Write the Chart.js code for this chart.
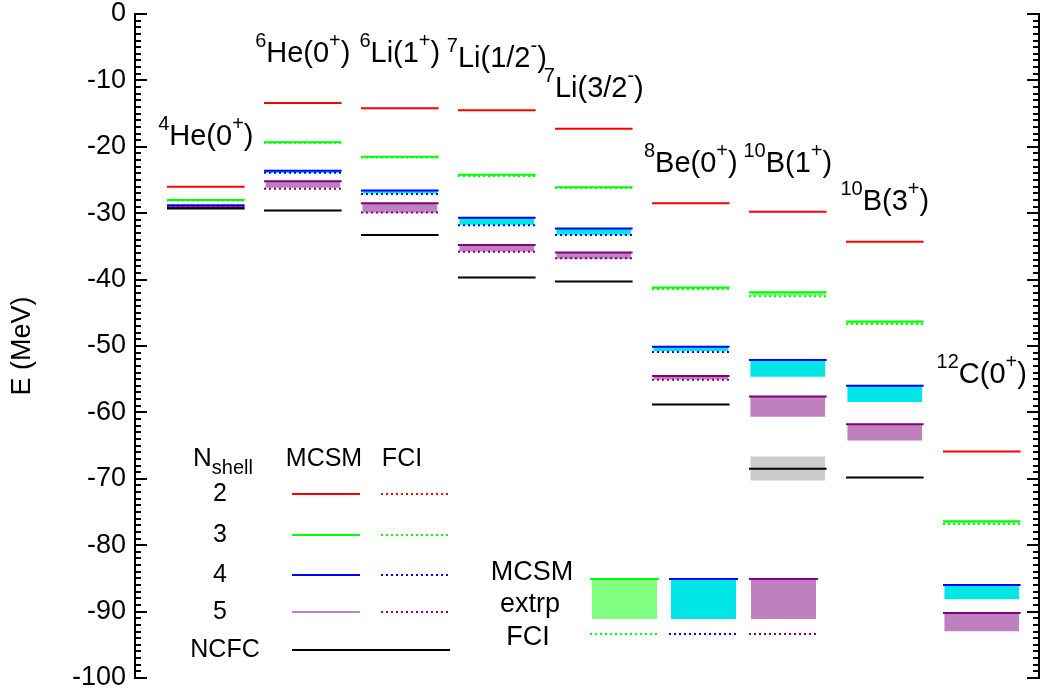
<!DOCTYPE html>
<html>
<head>
<meta charset="utf-8">
<title>Ground-state energies</title>
<script src="https://cdn.jsdelivr.net/npm/chart.js@4.4.1/dist/chart.umd.min.js"></script>
<style>
    html, body { margin: 0; padding: 0; background: #fff; }
</style>
</head>
<body>
<canvas id="levelChart" width="1047" height="691"></canvas>
<script>
// nuclei (mass number, element, J, parity)
const massNumber = [4, 6, 6, 7, 7, 8, 10, 10, 12];
const element = ['He', 'He', 'Li', 'Li', 'Li', 'Be', 'B', 'B', 'C'];
const spin = ['0', '0', '1', '1/2', '3/2', '0', '1', '3', '0'];
const parity = ['+', '+', '+', '-', '-', '+', '+', '+', '+'];

// energies in MeV, one entry per nucleus (FCI Nshell=2 coincides with MCSM)
const mcsm2 = [-26.0, -13.4, -14.2, -14.5, -17.3, -28.5, -29.8, -34.3, -65.9];
const mcsm3 = [-28.0, -19.3, -21.5, -24.2, -26.1, -41.2, -41.9, -46.3, -76.4];
const fci3 = [-28.1, -19.4, -21.6, -24.4, -26.2, -41.4, -42.5, -46.7, -76.8];
const mcsm4 = [-28.8, -23.6, -26.6, -30.7, -32.3, -50.1, -52.1, -56.0, -86.0];
const fci4 = [-28.9, -23.9, -27.1, -31.8, -33.3, -50.9, null, null, null];
const mcsm5 = [-29.1, -25.2, -28.5, -34.8, -35.9, -54.5, -57.6, -61.8, -90.2];
const fci5 = [-29.2, -26.3, -29.9, -35.8, -36.8, -55.1, null, null, null];
const extrp3 = [null, null, null, null, null, -41.3, -42.4, -46.6, -76.7];
const extrp4 = [null, -23.9, -27.0, -31.7, -33.2, -50.7, -54.6, -58.4, -88.1];
const extrp5 = [null, -26.1, -29.9, -35.7, -36.8, -55.0, -60.6, -64.2, -92.9];
const ncfc = [-29.3, -29.6, -33.3, -39.7, -40.3, -58.8, -68.5, -69.8, null];
const ncfcErrHigh = [null, null, null, null, null, null, -66.7, null, null];
const ncfcErrLow = [null, null, null, null, null, null, -70.2, null, null];

const yTicks = [0, -10, -20, -30, -40, -50, -60, -70, -80, -90, -100];

const FONT = '"Liberation Sans", Arial, Helvetica, sans-serif';
const segStart = 0.33;
const segWidth = 0.8;

const levelData = (values) => {
    let pts = [];
    values.forEach((v, i) => {
        if (v === null) return;
        pts.push({ x: i + segStart, y: v });
        pts.push({ x: i + segStart + segWidth, y: v });
        pts.push({ x: i + segStart + segWidth, y: null });
    });
    return pts;
};

const bandData = (tops, bottoms) => {
    let pts = [];
    tops.forEach((t, i) => {
        if (t === null || bottoms[i] === null) return;
        pts.push({ x: i + segStart + segWidth / 2, y: [bottoms[i], t] });
    });
    return pts;
};

const solid = (values, color) => ({
    type: 'line', data: levelData(values), borderColor: color, borderWidth: 2,
    pointRadius: 0, spanGaps: false, order: 1
});
const dotted = (values, color) => ({
    type: 'line', data: levelData(values), borderColor: color, borderWidth: 2,
    borderDash: [2, 3], pointRadius: 0, spanGaps: false, order: 2
});
const band = (tops, bottoms, color) => ({
    type: 'bar', data: bandData(tops, bottoms), backgroundColor: color,
    borderWidth: 0, barThickness: 74, grouped: false, order: 3
});

// text with superscripts / subscripts
const drawRich = (ctx, parts, cx, baseline, size, smallSize) => {
    let widths = parts.map(p => {
        ctx.font = (p.sup || p.sub ? smallSize : size) + 'px ' + FONT;
        return ctx.measureText(p.t).width;
    });
    let total = widths.reduce((a, b) => a + b, 0);
    let x = cx - total / 2;
    parts.forEach((p, k) => {
        ctx.font = (p.sup || p.sub ? smallSize : size) + 'px ' + FONT;
        let y = baseline;
        if (p.sup) y = baseline - size * 0.52;
        if (p.sub) y = baseline + size * 0.3;
        ctx.fillText(p.t, x, y);
        x += widths[k];
    });
};

const axesPlugin = {
    id: 'axesPlugin',
    afterDraw(chart) {
        const ctx = chart.ctx;
        const y = chart.scales.y;
        const { left, right, top, bottom } = chart.chartArea;
        ctx.save();
        ctx.strokeStyle = '#000';
        ctx.lineWidth = 2;
        ctx.beginPath();
        ctx.moveTo(left, top - 1); ctx.lineTo(left, bottom + 1);
        ctx.moveTo(right, top - 1); ctx.lineTo(right, bottom + 1);
        for (let v = -100; v <= 0; v++) {
            const py = Math.round(y.getPixelForValue(v));
            const len = v % 10 === 0 ? 12 : 6;
            ctx.moveTo(left - 1, py); ctx.lineTo(left + len, py);
            ctx.moveTo(right + 1, py); ctx.lineTo(right - len, py);
        }
        ctx.stroke();
        ctx.restore();
    }
};

// nucleus names above each column
const labelBaseline = [145, 62, 62, 67, 97, 172, 172, 210, 383];
const labelsPlugin = {
    id: 'labelsPlugin',
    afterDraw(chart) {
        const ctx = chart.ctx;
        const x = chart.scales.x;
        ctx.save();
        ctx.fillStyle = '#000';
        ctx.textAlign = 'left';
        ctx.textBaseline = 'alphabetic';
        massNumber.forEach((a, i) => {
            const parts = [
                { t: String(a), sup: true },
                { t: element[i] + '(' + spin[i] },
                { t: parity[i], sup: true },
                { t: ')' }
            ];
            drawRich(ctx, parts, x.getPixelForValue(i + segStart + segWidth / 2), labelBaseline[i], 29, 20);
        });
        ctx.restore();
    }
};

const legendPlugin = {
    id: 'legendPlugin',
    afterDraw(chart) {
        const ctx = chart.ctx;
        ctx.save();
        ctx.fillStyle = '#000';
        ctx.textAlign = 'left';
        ctx.textBaseline = 'alphabetic';
        // left legend header
        drawRich(ctx, [{ t: 'N' }, { t: 'shell', sub: true }], 223, 466, 26, 20);
        ctx.textAlign = 'center';
        ctx.font = '25px ' + FONT;
        ctx.fillText('MCSM', 324, 466);
        ctx.fillText('FCI', 402, 466);

        const rows = [
            { n: '2', y: 494, c: '#ff0000', d: '#ff0000' },
            { n: '3', y: 535, c: '#00ff00', d: '#00ff00' },
            { n: '4', y: 575, c: '#0000ff', d: '#0000ff' },
            { n: '5', y: 612, c: '#bf80bf', d: '#800080' }
        ];
        ctx.textBaseline = 'middle';
        ctx.lineWidth = 2;
        rows.forEach(r => {
            ctx.fillText(r.n, 220, r.y);
            ctx.strokeStyle = r.c;
            ctx.setLineDash([]);
            ctx.beginPath(); ctx.moveTo(292, r.y); ctx.lineTo(360, r.y); ctx.stroke();
            ctx.strokeStyle = r.d;
            ctx.setLineDash([2, 3]);
            ctx.beginPath(); ctx.moveTo(381, r.y); ctx.lineTo(449, r.y); ctx.stroke();
        });
        ctx.setLineDash([]);
        ctx.fillText('NCFC', 225, 650);
        ctx.strokeStyle = '#000';
        ctx.beginPath(); ctx.moveTo(292, 650); ctx.lineTo(450, 650); ctx.stroke();

        // bottom legend: extrapolation boxes
        ctx.textBaseline = 'alphabetic';
        ctx.font = '27px ' + FONT;
        ctx.fillText('MCSM', 532, 580);
        ctx.fillText('extrp', 530, 612);
        ctx.fillText('FCI', 528, 645);
        const boxes = [
            { x: 590, line: '#00ff00', fill: '#80ff80' },
            { x: 669, line: '#0000ff', fill: '#00e5e5' },
            { x: 749, line: '#800080', fill: '#bf80bf' }
        ];
        boxes.forEach(b => {
            ctx.fillStyle = b.fill;
            ctx.fillRect(b.x + 2, 580, 65, 39);
            ctx.strokeStyle = b.line;
            ctx.beginPath(); ctx.moveTo(b.x, 579); ctx.lineTo(b.x + 69, 579); ctx.stroke();
            ctx.setLineDash([2, 3]);
            ctx.beginPath(); ctx.moveTo(b.x, 634); ctx.lineTo(b.x + 69, 634); ctx.stroke();
            ctx.setLineDash([]);
        });
        ctx.restore();
    }
};

const ctx = document.getElementById('levelChart');
new Chart(ctx, {
    data: {
        datasets: [
            band(mcsm3, extrp3, '#80ff80'),
            band(mcsm4, extrp4, '#00e5e5'),
            band(mcsm5, extrp5, '#bf80bf'),
            band(ncfcErrHigh, ncfcErrLow, '#cccccc'),
            dotted(fci3, '#00ff00'),
            dotted(fci4, '#0000ff'),
            dotted(fci5, '#800080'),
            solid(ncfc, '#000000'),
            solid(mcsm5, '#800080'),
            solid(mcsm4, '#0000ff'),
            solid(mcsm3, '#00ff00'),
            solid(mcsm2, '#ff0000')
        ]
    },
    options: {
        responsive: false,
        animation: false,
        devicePixelRatio: 1,
        layout: { padding: { top: 14, right: 8, bottom: 13, left: 0 } },
        plugins: { legend: { display: false }, tooltip: { enabled: false } },
        scales: {
            x: { type: 'linear', min: 0, max: 9.32, display: false, stacked: true, offset: false },
            y: {
                type: 'linear', min: -100, max: 0, stacked: false,
                afterFit: (scale) => { scale.width = 135; },
                afterBuildTicks: (scale) => { scale.ticks = yTicks.map(v => ({ value: v })); },
                grid: { display: false },
                border: { display: false },
                ticks: { color: '#000', padding: 1, font: { family: FONT, size: 27, lineHeight: 0.1 } },
                title: {
                    display: true, text: 'E (MeV)', color: '#000',
                    font: { family: FONT, size: 27 }, padding: { top: 6, bottom: 0 }
                }
            }
        }
    },
    plugins: [axesPlugin, labelsPlugin, legendPlugin]
});
</script>
</body>
</html>
